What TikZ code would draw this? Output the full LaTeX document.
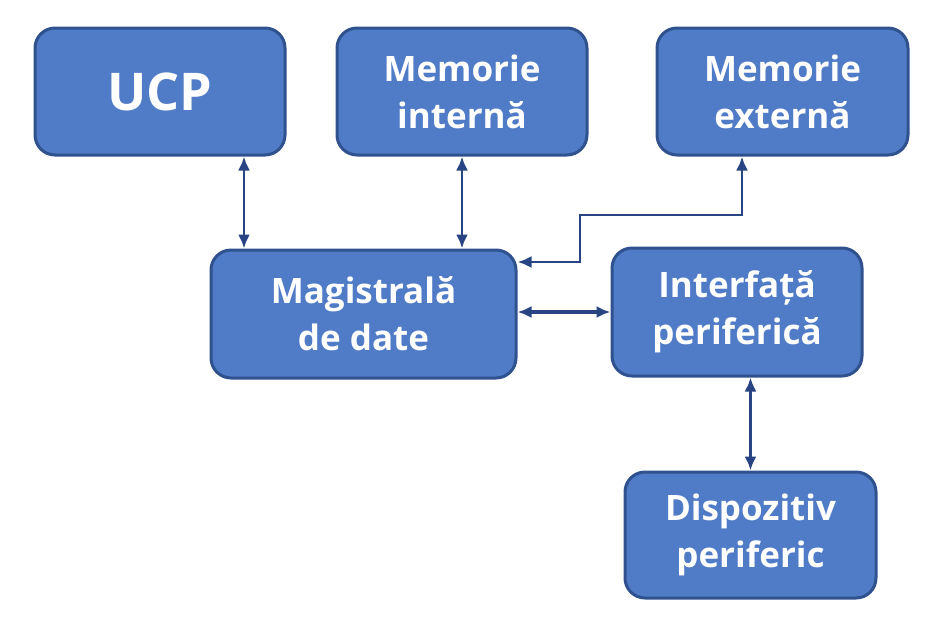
\documentclass[tikz,border=0pt]{standalone}
\usepackage{fontspec}
\setmainfont{Open Sans}
\usetikzlibrary{arrows.meta}
\definecolor{boxfill}{RGB}{80,123,199}
\definecolor{boxline}{RGB}{47,82,143}
\definecolor{arrcol}{RGB}{40,68,130}
\tikzset{
  blk/.style={draw=boxline, line width=3pt, fill=boxfill, rounded corners=20pt,
    text=white, font=\fontsize{35}{47}\selectfont\bfseries, align=center,
    inner sep=0pt},
  dbl/.style={draw=arrcol, line width=2.8pt, {Latex[length=14pt,width=12pt]}-{Latex[length=14pt,width=12pt]}},
  dblthick/.style={dbl, line width=3.6pt}
}
\begin{document}
\begin{tikzpicture}[x=1pt,y=-1pt]
\useasboundingbox (0,0) rectangle (943,619);
\node[blk, minimum width=250pt, minimum height=127pt, font=\fontsize{52}{60}\selectfont\bfseries] (ucp) at (160,91.5) {UCP};
\node[blk, minimum width=250pt, minimum height=127pt] (memint) at (462,91.5) {Memorie\\internă};
\node[blk, minimum width=251pt, minimum height=127pt] (memext) at (782.5,91.5) {Memorie\\externă};
\node[blk, minimum width=305pt, minimum height=128pt] (mag) at (363.5,314) {Magistrală\\de date};
\node[blk, minimum width=250pt, minimum height=128pt] (intf) at (737,312) {Interfață\\periferică};
\node[blk, minimum width=251pt, minimum height=126pt] (disp) at (750.5,535) {Dispozitiv\\periferic};
\draw[dbl] ([xshift=84pt]ucp.south) -- ([xshift=84pt]ucp.south |- mag.north);
\draw[dbl] (memint.south) -- (memint.south |- mag.north);
\coordinate (k1) at (742,215);
\coordinate (k2) at (580,262);
\draw[dbl] ([xshift=-40.5pt]memext.south) -- (k1) -- (k1 -| k2) -- (k2) -- (k2 -| mag.east);
\draw[dblthick] (mag.east |- intf.west) -- (intf.west);
\draw[dblthick] (disp.north) -- (disp.north |- intf.south);
\end{tikzpicture}
\end{document}
